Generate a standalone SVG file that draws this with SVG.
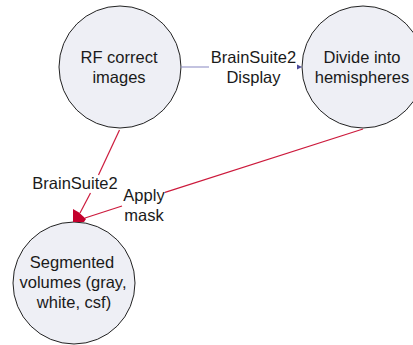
<svg xmlns="http://www.w3.org/2000/svg" width="413" height="345" viewBox="0 0 413 345">
<style>
.node{fill:#eeeff5;stroke:#222;stroke-width:1}
text{font-family:"Liberation Sans",Arial,sans-serif;font-size:16.5px;fill:#1a1a1a;text-anchor:middle}
.blue{stroke:#9a9acc;stroke-width:1.2;fill:none}
.red{stroke:#cc1a3c;stroke-width:1.2;fill:none}
</style>
<rect width="413" height="345" fill="#fff"/>
<g id="node-rf">
<circle class="node" cx="120" cy="67" r="61"/>
<text x="119" y="63">RF correct</text>
<text x="119" y="83">images</text>
</g>
<g id="node-divide">
<circle class="node" cx="363" cy="67" r="61"/>
<text x="362" y="63">Divide into</text>
<text x="362" y="83">hemispheres</text>
</g>
<g id="node-seg">
<circle class="node" cx="74" cy="283" r="61"/>
<text x="72" y="268">Segmented</text>
<text x="73" y="288">volumes (gray,</text>
<text x="74" y="308">white, csf)</text>
</g>
<g id="connectors">
<line class="blue" x1="181" y1="67" x2="209" y2="67"/>
<polygon points="297,64.5 302,67 297,69.5" fill="#4a4a9a"/>
<text x="253.5" y="63">BrainSuite2</text>
<text x="253.5" y="83">Display</text>
<line class="red" x1="119.5" y1="130" x2="98.5" y2="175"/>
<line class="red" x1="90.5" y1="193" x2="80" y2="213"/>
<text x="75" y="189">BrainSuite2</text>
<line class="red" x1="363" y1="129" x2="165" y2="192.4"/>
<line class="red" x1="122" y1="206" x2="85" y2="218"/>
<text x="144" y="201">Apply</text>
<text x="144" y="221">mask</text>
<polygon points="73,209 79,212.5 86,219 84,222 73,222" fill="#c4002c"/>
</g>
</svg>
